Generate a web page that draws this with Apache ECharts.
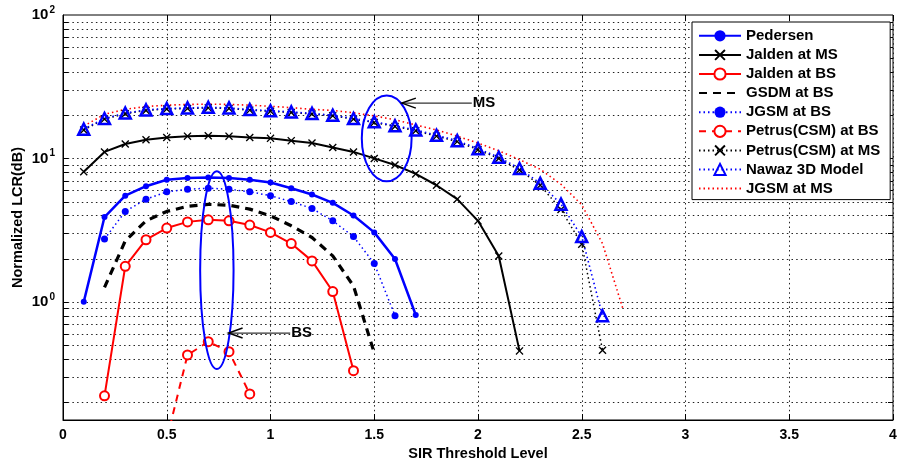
<!DOCTYPE html>
<html><head><meta charset="utf-8">
<script src="https://cdn.jsdelivr.net/npm/echarts@6/dist/echarts.min.js"></script>
<style>html,body{margin:0;padding:0;background:#fff}#c{width:901px;height:463px}</style>
</head><body><div id="c"></div>
<script>
const FONT = '"Liberation Sans", Arial, Helvetica, sans-serif';

// ---- data ----
const seriesNames = ['Pedersen','Jalden at MS','Jalden at BS','GSDM at BS','JGSM at BS',
  'Petrus(CSM) at BS','Petrus(CSM) at MS','Nawaz 3D Model','JGSM at MS'];

const pedersenX = [0.1,0.2,0.3,0.4,0.5,0.6,0.7,0.8,0.9,1.0,1.1,1.2,1.3,1.4,1.5,1.6,1.7];
const pedersenY = [1.0,3.9,5.5,6.4,7.1,7.3,7.35,7.3,7.1,6.8,6.2,5.6,4.9,4.0,3.05,1.99,0.81];

const jaldenMsX = [0.1,0.2,0.3,0.4,0.5,0.6,0.7,0.8,0.9,1.0,1.1,1.2,1.3,1.4,1.5,1.6,1.7,1.8,1.9,2.0,2.1,2.2];
const jaldenMsY = [8.07,11.1,12.6,13.5,14.0,14.3,14.4,14.3,14.0,13.8,13.3,12.8,11.9,11.1,10.0,9.0,7.8,6.5,5.2,3.67,2.09,0.455];

const jaldenBsX = [0.2,0.3,0.4,0.5,0.6,0.7,0.8,0.9,1.0,1.1,1.2,1.3,1.4];
const jaldenBsY = [0.221,1.77,2.71,3.27,3.61,3.73,3.67,3.43,3.05,2.55,1.93,1.18,0.331];

const gsdmBsX = [0.2,0.3,0.4,0.5,0.6,0.7,0.8,0.9,1.0,1.1,1.2,1.3,1.4,1.5];
const gsdmBsY = [1.26,2.66,3.67,4.27,4.63,4.78,4.72,4.43,3.98,3.39,2.81,2.09,1.29,0.44];

const jgsmBsX = [0.2,0.3,0.4,0.5,0.6,0.7,0.8,0.9,1.0,1.1,1.2,1.3,1.4,1.5,1.6];
const jgsmBsY = [2.74,4.27,5.2,5.85,6.1,6.2,6.1,5.85,5.5,5.0,4.48,3.67,2.85,1.85,0.80];

const petrusBsX = [0.5,0.6,0.7,0.8,0.9];
const petrusBsY = [0.11,0.426,0.527,0.449,0.228];

const petrusMsX = [0.1,0.2,0.3,0.4,0.5,0.6,0.7,0.8,0.9,1.0,1.1,1.2,1.3,1.4,1.5,1.6,1.7,1.8,1.9,2.0,2.1,2.2,2.3,2.4,2.5,2.6];
const petrusMsY = [15.8,18.8,20.5,21.6,22.1,22.3,22.5,22.3,21.7,21.3,20.9,20.4,19.8,18.8,17.8,16.7,15.6,14.3,13.1,11.5,10.0,8.3,6.5,4.4,2.52,0.46];

const nawazX = [0.1,0.2,0.3,0.4,0.5,0.6,0.7,0.8,0.9,1.0,1.1,1.2,1.3,1.4,1.5,1.6,1.7,1.8,1.9,2.0,2.1,2.2,2.3,2.4,2.5,2.6];
const nawazY = [16.0,19.0,20.7,21.8,22.3,22.5,22.7,22.5,21.9,21.5,21.1,20.6,20.0,19.0,18.0,16.9,15.8,14.5,13.3,11.7,10.2,8.5,6.7,4.8,2.85,0.80];

const jgsmMsX = [0.1,0.2,0.3,0.4,0.5,0.6,0.7,0.8,0.9,1.0,1.1,1.2,1.3,1.4,1.5,1.6,1.7,1.8,1.9,2.0,2.1,2.2,2.3,2.4,2.5,2.6,2.7];
const jgsmMsY = [16.8,20.3,22.0,23.0,23.5,23.8,23.9,23.8,23.5,23.1,22.6,22.0,21.6,20.8,19.8,18.6,17.1,15.8,14.3,12.8,11.3,9.8,8.4,6.6,4.75,2.55,0.88];

// y-axis grid / tick values (log decades with minor ticks)
const yGridValues = [0.2,0.3,0.4,0.5,0.6,0.7,0.8,0.9,1,2,3,4,5,6,7,8,9,10,20,30,40,50,60,70,80,90];

// annotations (data coordinates)
const msEllipse = {x:[1.44,1.68], y:[27.5,6.93]};
const bsEllipse = {x:[0.661,0.822], y:[8.14,0.34]};
const msArrow = {tip:[1.633,24.3], tail:[1.97,24.3], label:'MS'};
const bsArrow = {tip:[0.798,0.606], tail:[1.095,0.606], label:'BS'};

// ---- build ----
const zip = (xs, ys) => xs.map((x, i) => [x, ys[i]]);
const BLUE = '#0000ff', RED = '#ff0000', BLACK = '#000000', NONE = 'rgba(0,0,0,0)';
const XPATH = 'path://M0,1.2L1.2,0L5,3.8L8.8,0L10,1.2L6.2,5L10,8.8L8.8,10L5,6.2L1.2,10L0,8.8L3.8,5Z';

function lineSeries(name, xs, ys, o) {
  return Object.assign({
    name, type: 'line', data: zip(xs, ys), z: 3, clip: true, animation: false,
    showAllSymbol: true
  }, o);
}

const chart = echarts.init(document.getElementById('c'), null, {renderer: 'canvas'});

const gridSeries = {
  type: 'custom', name: '_grid', z: 1, silent: true, animation: false,
  xAxisIndex: 0, yAxisIndex: 0, clip: true,
  data: yGridValues.map(v => [0, v]),
  renderItem: function (params, api) {
    const cs = params.coordSys;
    const y = Math.round(api.coord([0, api.value(1)])[1]) + 0.5;
    return {
      type: 'group',
      children: [
        {type: 'line', shape: {x1: cs.x, y1: y, x2: cs.x + cs.width, y2: y},
         style: {stroke: '#222', lineWidth: 1, lineDash: [1.5, 3.2]}},
        {type: 'line', shape: {x1: cs.x, y1: y, x2: cs.x + 5, y2: y},
         style: {stroke: '#000', lineWidth: 1}},
        {type: 'line', shape: {x1: cs.x + cs.width - 5, y1: y, x2: cs.x + cs.width, y2: y},
         style: {stroke: '#000', lineWidth: 1}}
      ]
    };
  }
};

const option = {
  backgroundColor: '#fff',
  animation: false,
  textStyle: {fontFamily: FONT},
  grid: {left: 63, right: 8, top: 15, bottom: 43, show: true, borderColor: '#000', borderWidth: 1,
    backgroundColor: 'transparent', containLabel: false, outerBoundsMode: 'none'},
  legend: {
    data: seriesNames, orient: 'vertical', left: 692, top: 22,
    itemWidth: 42, itemHeight: 14, itemGap: 4.1, padding: [6.3, 10, 3.5, 6],
    backgroundColor: '#fff', borderColor: '#000', borderWidth: 1, selectedMode: false, z: 20,
    textStyle: {fontFamily: FONT, fontWeight: 'bold', fontSize: 15, lineHeight: 14, color: '#000'}
  },
  xAxis: [{
    type: 'value', min: 0, max: 4, interval: 0.5,
    name: 'SIR Threshold Level', nameLocation: 'middle', nameGap: 25,
    nameTextStyle: {fontFamily: FONT, fontWeight: 'bold', fontSize: 14.5, color: '#000'},
    axisLine: {show: true, lineStyle: {color: '#000'}},
    axisTick: {show: true, inside: true, length: 6, lineStyle: {color: '#000'}},
    axisLabel: {margin: 8, fontFamily: FONT, fontWeight: 'bold', fontSize: 14, color: '#000'},
    splitLine: {show: true, lineStyle: {color: '#222', type: [1.5, 3.2], width: 1}}
  }, {
    type: 'value', min: 0, max: 4, interval: 0.5, position: 'top',
    axisLine: {show: false}, axisLabel: {show: false}, splitLine: {show: false},
    axisTick: {show: true, inside: true, length: 6, lineStyle: {color: '#000'}}
  }],
  yAxis: [{
    type: 'log', logBase: 10, min: 0.15, max: 100,
    name: 'Normalized LCR(dB)', nameLocation: 'middle', nameGap: 38, nameMoveOverlap: false,
    nameTextStyle: {fontFamily: FONT, fontWeight: 'bold', fontSize: 14.5, color: '#000'},
    axisLine: {show: true, lineStyle: {color: '#000'}},
    axisTick: {show: false},
    splitLine: {show: false},
    axisLabel: {
      margin: 8, fontFamily: FONT, fontWeight: 'bold', fontSize: 15, color: '#000',
      formatter: function (v) {
        const l = Math.log10(v), r = Math.round(l);
        if (Math.abs(l - r) > 1e-6) return '';
        return '10{sup|' + r + '}';
      },
      rich: {sup: {fontFamily: FONT, fontWeight: 'bold', fontSize: 10, color: '#000', padding: [0, 0, 10, 1]}}
    }
  }],
  series: [
    gridSeries,
    lineSeries('JGSM at MS', jgsmMsX, jgsmMsY, {
      symbol: 'circle', showSymbol: false, lineStyle: {color: RED, width: 1.6, type: [1.5, 3]}, itemStyle: {color: NONE}
    }),
    lineSeries('Petrus(CSM) at MS', petrusMsX, petrusMsY, {
      symbol: XPATH, symbolSize: 8, lineStyle: {color: BLACK, width: 1.5, type: [1.5, 3]}, itemStyle: {color: BLACK}
    }),
    lineSeries('Nawaz 3D Model', nawazX, nawazY, {
      symbol: 'triangle', symbolSize: 11, lineStyle: {color: BLUE, width: 1.6, type: [1.5, 3]},
      itemStyle: {color: NONE, borderColor: BLUE, borderWidth: 2.5}
    }),
    lineSeries('GSDM at BS', gsdmBsX, gsdmBsY, {
      symbol: 'circle', showSymbol: false, lineStyle: {color: BLACK, width: 3.2, type: [8, 6]}, itemStyle: {color: NONE}
    }),
    lineSeries('JGSM at BS', jgsmBsX, jgsmBsY, {
      symbol: 'circle', symbolSize: 7, lineStyle: {color: BLUE, width: 1.5, type: [1.5, 3]}, itemStyle: {color: BLUE}
    }),
    lineSeries('Jalden at MS', jaldenMsX, jaldenMsY, {
      symbol: XPATH, symbolSize: 8, lineStyle: {color: BLACK, width: 2}, itemStyle: {color: BLACK}
    }),
    lineSeries('Jalden at BS', jaldenBsX, jaldenBsY, {
      symbol: 'circle', symbolSize: 9, lineStyle: {color: RED, width: 2},
      itemStyle: {color: '#fff', borderColor: RED, borderWidth: 2}
    }),
    lineSeries('Petrus(CSM) at BS', petrusBsX, petrusBsY, {
      symbol: 'circle', symbolSize: 9, lineStyle: {color: RED, width: 2, type: [7, 6]},
      itemStyle: {color: '#fff', borderColor: RED, borderWidth: 2}
    }),
    lineSeries('Pedersen', pedersenX, pedersenY, {
      symbol: 'circle', symbolSize: 6, lineStyle: {color: BLUE, width: 2.5}, itemStyle: {color: BLUE}
    })
  ]
};
chart.setOption(option);

// annotations positioned through the chart's own scales
const px = (x, y) => chart.convertToPixel({gridIndex: 0}, [x, y]);
function ellipse(e) {
  const a = px(e.x[0], e.y[0]), b = px(e.x[1], e.y[1]);
  return {type: 'ellipse', z: 15, shape: {cx: (a[0] + b[0]) / 2, cy: (a[1] + b[1]) / 2,
    rx: Math.abs(b[0] - a[0]) / 2, ry: Math.abs(b[1] - a[1]) / 2},
    style: {fill: 'none', stroke: BLUE, lineWidth: 2}};
}
function arrow(ar) {
  const t = px(ar.tip[0], ar.tip[1]), s = px(ar.tail[0], ar.tail[1]);
  return [
    {type: 'line', z: 15, shape: {x1: t[0], y1: t[1], x2: s[0], y2: s[1]}, style: {stroke: '#333', lineWidth: 1.2}},
    {type: 'polyline', z: 15, shape: {points: [[t[0] + 14, t[1] - 5], [t[0], t[1]], [t[0] + 14, t[1] + 5]]},
      style: {stroke: '#000', lineWidth: 1.5, fill: 'none'}},
    {type: 'text', z: 15, x: s[0] + 1, y: s[1], style: {text: ar.label, fontFamily: FONT, fontWeight: 'bold',
      fontSize: 15, fill: '#000', verticalAlign: 'middle', align: 'left'}}
  ];
}
chart.setOption({graphic: [ellipse(msEllipse), ellipse(bsEllipse)].concat(arrow(msArrow), arrow(bsArrow))});
</script></body></html>
